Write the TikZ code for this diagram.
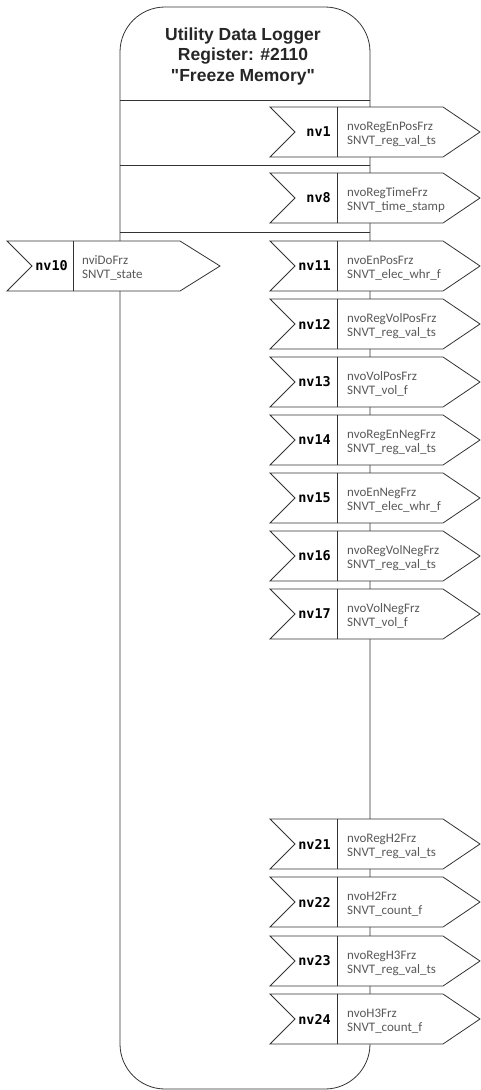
\documentclass[tikz,border=0pt]{standalone}
\usepackage{fontspec}
\setmainfont{Liberation Sans}
\newfontfamily\labfont{Carlito}
\newfontfamily\nvfont{DejaVu Sans Mono}
\newcommand\outsig[4]{%
  \path[pent] (270,#2) -- (443,#2) -- (480,#2+25) -- (443,#2+50) -- (270,#2+50) -- (295,#2+25) -- cycle;
  \draw[frame] (337,#2) -- (337,#2+50);
  \node[nvlab,anchor=east] (#1) at (331,#2+25) {#1};
  \node[siglab,anchor=west] (#1txt) at (347,#2+27) {#3\\#4};
}
\begin{document}
\begin{tikzpicture}[x=1pt,y=-1pt,
  frame/.style={draw=black!80, line width=0.8pt},
  pent/.style={draw=black!80, fill=white, line width=0.8pt, line join=miter},
  nvlab/.style={font=\nvfont\bfseries\fontsize{13.5}{13.5}\selectfont, inner sep=0pt},
  siglab/.style={font=\labfont\fontsize{13}{14}\selectfont, text=black!65, align=left, inner sep=0pt},
  title/.style={font=\bfseries\fontsize{17.5}{20.5}\selectfont, align=center, text=black!85}
]
\useasboundingbox (0,0) rectangle (481,1090);
% main block
\draw[frame, rounded corners=45pt] (120,7) rectangle (370,1089);
\node[title] (title) at (243,56) {Utility Data Logger\\Register: \#2110\\\textquotedbl Freeze Memory\textquotedbl};
\draw[frame] (120,100) -- (370,100);
\draw[frame] (120,165) -- (370,165);
\draw[frame] (120,232) -- (370,232);
% input
\path[pent] (7,241) -- (180,241) -- (220,266) -- (180,291) -- (7,291) -- (32,266) -- cycle;
\draw[frame] (73,241) -- (73,291);
\node[nvlab,anchor=east] (nv10) at (68,266) {nv10};
\node[siglab,anchor=west] (nv10txt) at (82,268) {nviDoFrz\\SNVT\_state};
% outputs
\outsig{nv1}{107}{nvoRegEnPosFrz}{SNVT\_reg\_val\_ts}
\outsig{nv8}{173}{nvoRegTimeFrz}{SNVT\_time\_stamp}
\outsig{nv11}{241}{nvoEnPosFrz}{SNVT\_elec\_whr\_f}
\outsig{nv12}{299}{nvoRegVolPosFrz}{SNVT\_reg\_val\_ts}
\outsig{nv13}{357}{nvoVolPosFrz}{SNVT\_vol\_f}
\outsig{nv14}{415}{nvoRegEnNegFrz}{SNVT\_reg\_val\_ts}
\outsig{nv15}{473}{nvoEnNegFrz}{SNVT\_elec\_whr\_f}
\outsig{nv16}{531}{nvoRegVolNegFrz}{SNVT\_reg\_val\_ts}
\outsig{nv17}{589}{nvoVolNegFrz}{SNVT\_vol\_f}
\outsig{nv21}{819}{nvoRegH2Frz}{SNVT\_reg\_val\_ts}
\outsig{nv22}{877}{nvoH2Frz}{SNVT\_count\_f}
\outsig{nv23}{936}{nvoRegH3Frz}{SNVT\_reg\_val\_ts}
\outsig{nv24}{994}{nvoH3Frz}{SNVT\_count\_f}
\end{tikzpicture}
\end{document}
